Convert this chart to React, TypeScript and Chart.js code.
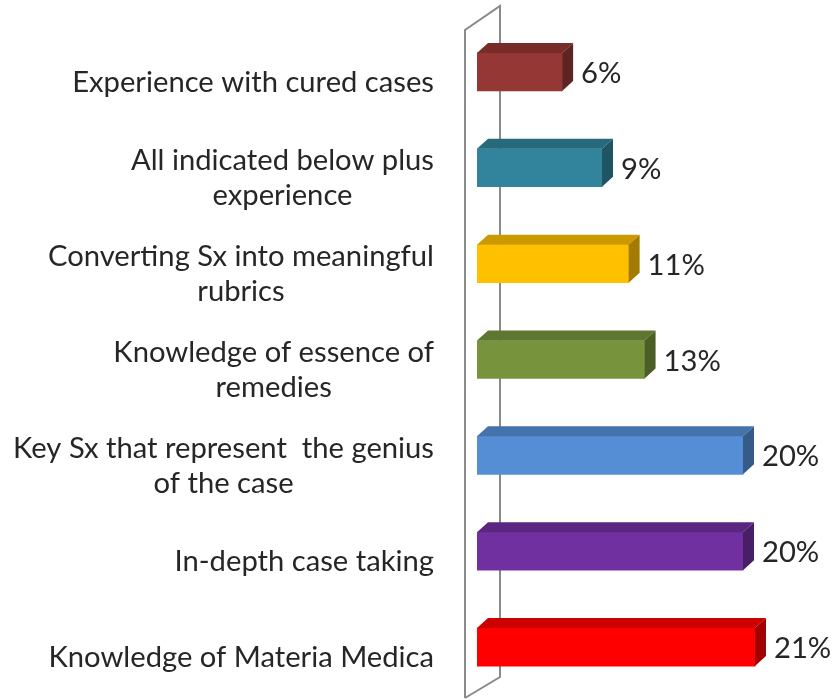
import React, { useEffect, useRef } from "react";
import { Chart, registerables } from "chart.js";

Chart.register(...registerables);

const categories: string[][] = [
  ["Experience with cured cases"],
  ["All indicated below plus", "experience"],
  ["Converting Sx into meaningful", "rubrics"],
  ["Knowledge of essence of", "remedies"],
  ["Key Sx that represent  the genius", "of the case"],
  ["In-depth case taking"],
  ["Knowledge of Materia Medica"],
];
const values: number[] = [6.4, 9.4, 11.4, 12.6, 20.0, 20.0, 20.9];
const barColors: string[] = ["#953735", "#31849B", "#FFC000", "#77933C", "#558ED5", "#7030A0", "#FF0000"];

const FONT = "Lato, 'Open Sans', sans-serif";
const TEXT_COLOR = "#262626";
const DX = 11;
const DY = 10;

function shade(hex: string, f: number): string {
  const n = parseInt(hex.slice(1), 16);
  const r = Math.round(((n >> 16) & 255) * f);
  const g = Math.round(((n >> 8) & 255) * f);
  const b = Math.round((n & 255) * f);
  return `rgb(${r},${g},${b})`;
}

function fitSize(ctx: CanvasRenderingContext2D): number {
  ctx.save();
  ctx.font = `100px ${FONT}`;
  const w = ctx.measureText("Experience with cured cases").width;
  ctx.restore();
  return (100 * 362) / w;
}

const threeDPlugin = {
  id: "threeD",
  beforeDatasetsDraw(chart: any) {
    const { ctx, chartArea } = chart;
    const fx = chartArea.left - 12;
    const bx = chartArea.left + 23;
    ctx.save();
    ctx.strokeStyle = "#8a8a8a";
    ctx.lineWidth = 2;
    ctx.beginPath();
    ctx.moveTo(fx, 698);
    ctx.lineTo(fx, 30);
    ctx.lineTo(bx, 6);
    ctx.lineTo(bx, 677);
    ctx.lineTo(fx, 698);
    ctx.stroke();
    ctx.restore();
  },
  afterDatasetsDraw(chart: any) {
    const { ctx } = chart;
    const meta = chart.getDatasetMeta(0);
    const size = fitSize(ctx);
    ctx.save();
    meta.data.forEach((el: any, i: number) => {
      const { x, y, base, height } = el.getProps(["x", "y", "base", "height"], true);
      const top = y - height / 2;
      const bot = y + height / 2;
      const c = barColors[i];
      // top face
      ctx.fillStyle = shade(c, 0.8);
      ctx.beginPath();
      ctx.moveTo(base, top);
      ctx.lineTo(base + DX, top - DY);
      ctx.lineTo(x + DX, top - DY);
      ctx.lineTo(x, top);
      ctx.closePath();
      ctx.fill();
      // side face
      ctx.fillStyle = shade(c, 0.64);
      ctx.beginPath();
      ctx.moveTo(x, top);
      ctx.lineTo(x + DX, top - DY);
      ctx.lineTo(x + DX, bot - DY);
      ctx.lineTo(x, bot);
      ctx.closePath();
      ctx.fill();
      // value label
      ctx.fillStyle = TEXT_COLOR;
      ctx.font = `${size}px ${FONT}`;
      ctx.textAlign = "left";
      ctx.textBaseline = "alphabetic";
      ctx.fillText(`${Math.round(values[i])}%`, x + 19, y + 11);
    });
    // category labels
    const yScale = chart.scales.y;
    ctx.font = `${size}px ${FONT}`;
    ctx.fillStyle = TEXT_COLOR;
    ctx.textBaseline = "alphabetic";
    ctx.textAlign = "center";
    const rightX = 434;
    const lineH = 35;
    const capH = 20;
    categories.forEach((lines, i) => {
      const cy = yScale.getPixelForValue(i);
      const blockW = Math.max(...lines.map((l) => ctx.measureText(l).width));
      const cx = rightX - blockW / 2;
      const h = capH + lineH * (lines.length - 1);
      const topY = cy + 10 - h / 2;
      lines.forEach((l, j) => {
        ctx.fillText(l, cx, topY + capH + lineH * j);
      });
    });
    ctx.restore();
  },
};

export default function App() {
  const ref = useRef<HTMLCanvasElement | null>(null);
  useEffect(() => {
    if (!ref.current) return;
    const chart = new Chart(ref.current, {
      type: "bar",
      data: {
        labels: categories.map((l) => l.join(" ")),
        datasets: [
          {
            data: values,
            backgroundColor: barColors,
            borderWidth: 0,
            barThickness: 38,
          },
        ],
      },
      options: {
        indexAxis: "y",
        animation: false,
        responsive: true,
        maintainAspectRatio: false,
        layout: { padding: { left: 477, right: 24.5, top: 24, bottom: 5 } },
        plugins: { legend: { display: false }, tooltip: { enabled: false } },
        scales: {
          x: { display: false, min: 0, max: 25 },
          y: { display: false, offset: true },
        },
      },
      plugins: [threeDPlugin],
    });
    return () => chart.destroy();
  }, []);
  return (
    <div style={{ position: "absolute", left: 0, top: 0, width: 834, height: 700, background: "#fff" }}>
      <canvas ref={ref} />
    </div>
  );
}
